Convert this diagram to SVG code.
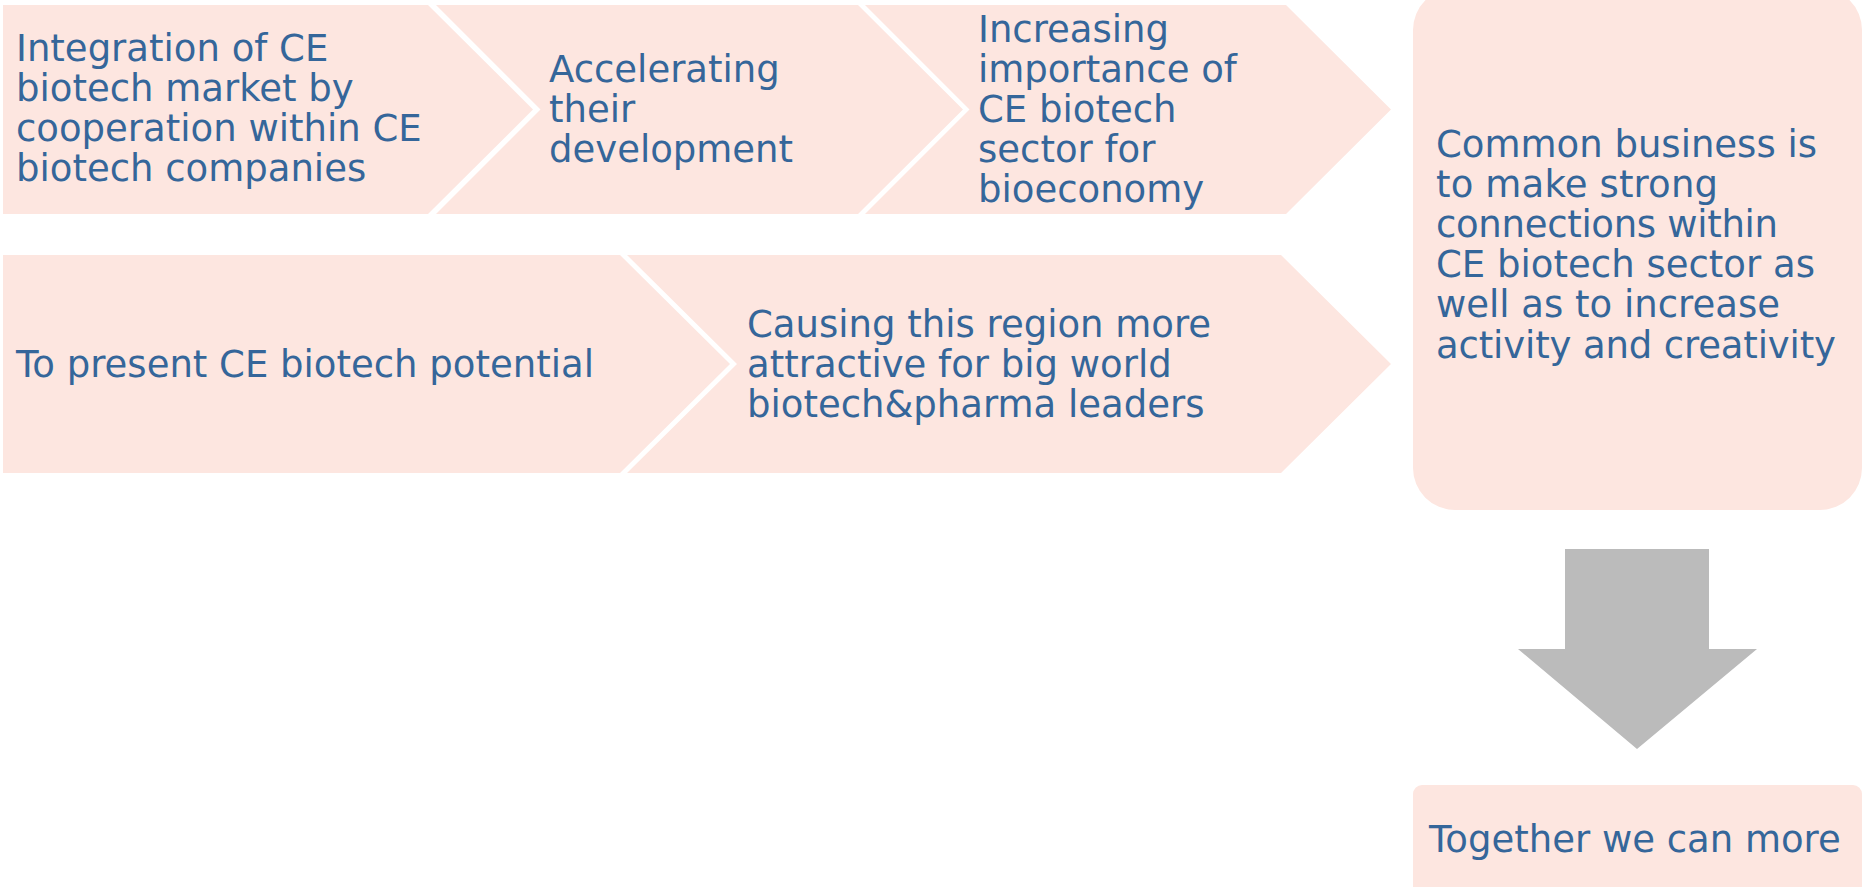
<svg xmlns="http://www.w3.org/2000/svg" width="1866" height="887" viewBox="0 0 1866 887">
<style>
.box{fill:#FDE6E0}
.t{font-family:"DejaVu Sans","Verdana",sans-serif;font-size:37px;fill:#35669A}
.arrow{fill:#BBBBBB}
</style>
<rect width="1866" height="887" fill="#FFFFFF"/>
<g id="node-integration">
<polygon class="box" points="3,5 428,5 533,109.5 428,214 3,214"/>
<text class="t" x="16" y="61">Integration of CE</text>
<text class="t" x="16" y="101">biotech market by</text>
<text class="t" x="16" y="141">cooperation within CE</text>
<text class="t" x="16" y="181">biotech companies</text>
</g>
<g id="node-accelerating">
<polygon class="box" points="436,5 858,5 963,109.5 858,214 436,214 540.5,109.5"/>
<text class="t" x="549" y="82">Accelerating</text>
<text class="t" x="549" y="122">their</text>
<text class="t" x="549" y="162">development</text>
</g>
<g id="node-importance">
<polygon class="box" points="865,5 1286,5 1391,109.5 1286,214 865,214 969.5,109.5"/>
<text class="t" x="978" y="42">Increasing</text>
<text class="t" x="978" y="82">importance of</text>
<text class="t" x="978" y="122">CE biotech</text>
<text class="t" x="978" y="162">sector for</text>
<text class="t" x="978" y="202">bioeconomy</text>
</g>
<g id="node-present">
<polygon class="box" points="3,255 620,255 730,364 620,473 3,473"/>
<text class="t" x="16" y="377">To present CE biotech potential</text>
</g>
<g id="node-causing">
<polygon class="box" points="627,255 1281,255 1391,364 1281,473 627,473 737,364"/>
<text class="t" x="747" y="337">Causing this region more</text>
<text class="t" x="747" y="377">attractive for big world</text>
<text class="t" x="747" y="417">biotech&amp;pharma leaders</text>
</g>
<g id="node-common">
<rect class="box" x="1413" y="-12" width="449" height="522" rx="42" ry="42"/>
<text class="t" x="1436" y="157" textLength="381" lengthAdjust="spacing">Common business is</text>
<text class="t" x="1436" y="197" textLength="282" lengthAdjust="spacing">to make strong</text>
<text class="t" x="1436" y="237" textLength="342" lengthAdjust="spacing">connections within</text>
<text class="t" x="1436" y="277" textLength="379" lengthAdjust="spacing">CE biotech sector as</text>
<text class="t" x="1436" y="317" textLength="344" lengthAdjust="spacing">well as to increase</text>
<text class="t" x="1436" y="358" textLength="400" lengthAdjust="spacing">activity and creativity</text>
</g>
<g id="connectors">
<polygon class="arrow" points="1565,549 1709,549 1709,649 1757,649 1637,749 1518,649 1565,649"/>
</g>
<g id="node-together">
<rect class="box" x="1413" y="785" width="449" height="120" rx="9" ry="9"/>
<text class="t" x="1429" y="852">Together we can more</text>
</g>
</svg>
